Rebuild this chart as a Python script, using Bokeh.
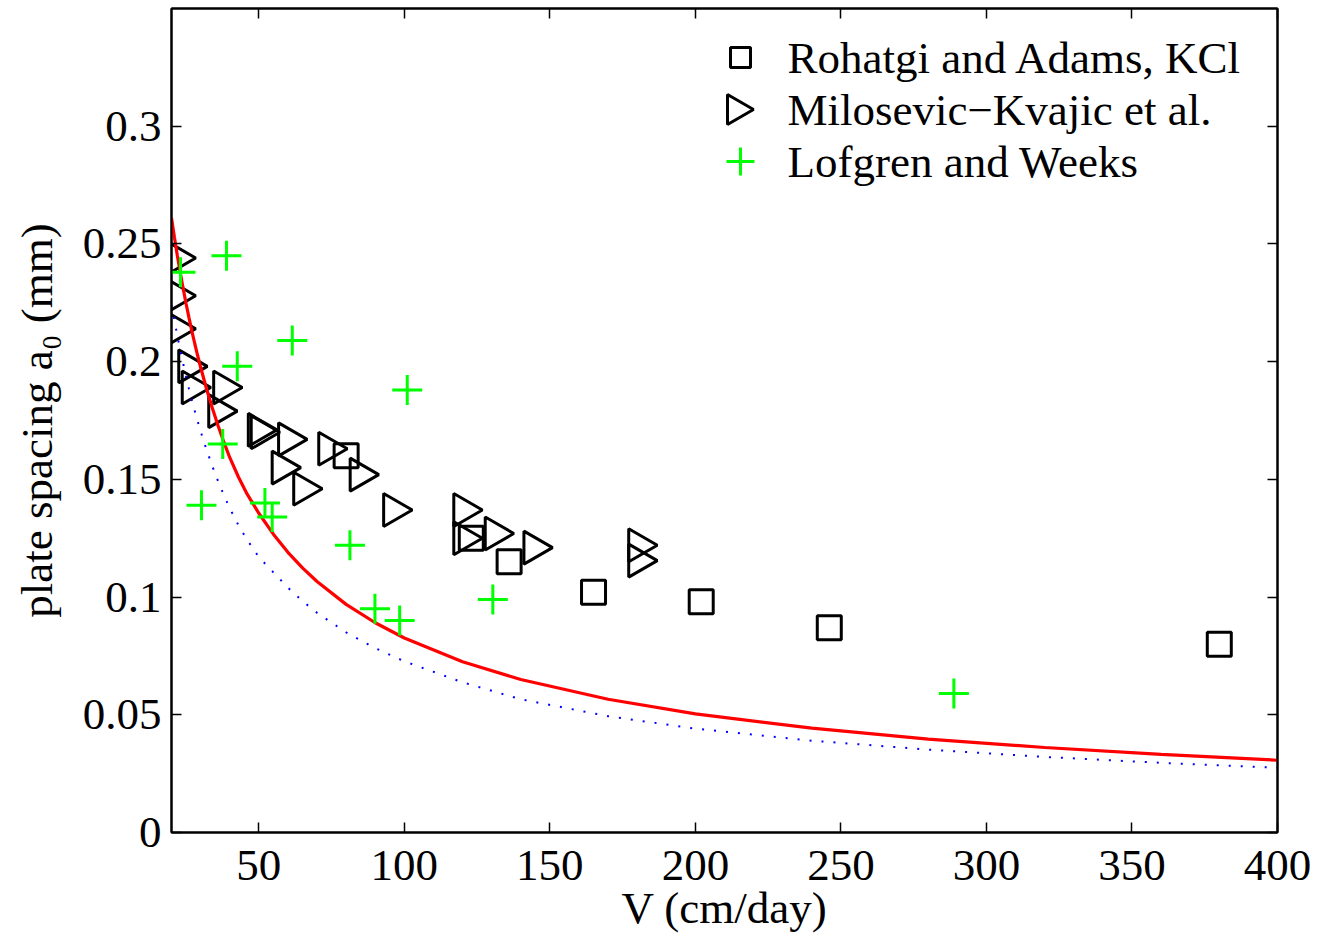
import math

from bokeh.embed import file_html
from bokeh.models import (ColumnDataSource, FixedTicker, Label, LinearAxis,
                          NumeralTickFormatter)
from bokeh.plotting import figure
from bokeh.resources import INLINE
from bokeh.transform import dodge

# ---- measurements: plate spacing a0 (mm) vs growth velocity V (cm/day) ----
rohatgi_v = [80, 123, 136, 165, 202, 246, 380]
rohatgi_a = [0.160, 0.125, 0.115, 0.102, 0.098, 0.087, 0.080]

milosevic_v = [23.4, 23.4, 23.4, 27.4, 28.6, 39.4, 37.7, 51.3, 52.3, 61.7, 75.5,
               59.5, 66.9, 86.3, 97.8, 121.9, 121.9, 132.7, 146, 182, 182]
milosevic_a = [0.244, 0.228, 0.214, 0.198, 0.189, 0.189, 0.179, 0.171, 0.170,
               0.167, 0.163, 0.155, 0.146, 0.152, 0.137, 0.137, 0.125, 0.127,
               0.121, 0.122, 0.1155]

lofgren_v = [38.9, 23.1, 61.5, 42.6, 101, 37.6, 30.3, 52.1, 54.6, 81.3, 89.9,
             98.4, 130.4, 288.8]
lofgren_a = [0.245, 0.238, 0.209, 0.198, 0.188, 0.165, 0.139, 0.140, 0.134,
             0.122, 0.095, 0.090, 0.099, 0.059]

# ---- model curves (red: full model, blue dotted: approximation) ----
curve_v = [20, 21, 22, 23, 24, 25, 26, 27, 28, 29, 30, 32, 34, 36, 38, 40, 43,
           46, 50, 55, 60, 65, 70, 80, 90, 100, 120, 140, 170, 200, 240, 280,
           320, 360, 400]
model_a = [0.2610, 0.2528, 0.2451, 0.2379, 0.2311, 0.2247, 0.2187, 0.2130,
           0.2076, 0.2025, 0.1976, 0.1886, 0.1804, 0.1728, 0.1658, 0.1593,
           0.1510, 0.1437, 0.1356, 0.1267, 0.1190, 0.1124, 0.1066, 0.0969,
           0.0891, 0.0826, 0.0725, 0.0650, 0.0566, 0.0504, 0.0443, 0.0397,
           0.0361, 0.0332, 0.0307]
approx_a = [0.2240, 0.2175, 0.2110, 0.2050, 0.1993, 0.1937, 0.1885, 0.1836,
            0.1790, 0.1746, 0.1704, 0.1627, 0.1557, 0.1492, 0.1433, 0.1378,
            0.1305, 0.1243, 0.1170, 0.1105, 0.1040, 0.0983, 0.0933, 0.0850,
            0.0783, 0.0727, 0.0638, 0.0566, 0.0494, 0.0441, 0.0390, 0.0352,
            0.0321, 0.0296, 0.0275]

x_ticks = [50, 100, 150, 200, 250, 300, 350, 400]
y_ticks = [0, 0.05, 0.1, 0.15, 0.2, 0.25, 0.3]

legend_labels = ["Rohatgi and Adams, KCl", "Milosevic\u2212Kvajic et al.",
                 "Lofgren and Weeks"]

# ---- layout ----
W, H = 1329, 935
BL, BR, BT, BB = 171, 52, 8, 103
X0, X1 = 20, 400
Y0, Y1 = 0, 0.35
FONT = "Liberation Serif"
FS = "45px"

px_x = (W - BL - BR) / (X1 - X0)      # pixels per cm/day
px_y = (H - BT - BB) / (Y1 - Y0)      # pixels per mm

p = figure(width=W, height=H, x_range=(X0, X1), y_range=(Y0, Y1),
           output_backend="svg", toolbar_location=None,
           min_border_left=BL, min_border_right=BR,
           min_border_top=BT, min_border_bottom=BB)
p.background_fill_color = "white"
p.border_fill_color = "white"
p.outline_line_color = "black"
p.outline_line_width = 2
p.xgrid.visible = False
p.ygrid.visible = False

x_bottom = p.below[0]
y_left = p.left[0]
x_top = LinearAxis()
y_right = LinearAxis()
p.add_layout(x_top, "above")
p.add_layout(y_right, "right")

x_bottom.axis_label = "V (cm/day)"
y_left.axis_label = "plate spacing a\u2080 (mm)"

for ax in (x_bottom, x_top):
    ax.ticker = FixedTicker(ticks=x_ticks)
for ax in (y_left, y_right):
    ax.ticker = FixedTicker(ticks=y_ticks)
    ax.formatter = NumeralTickFormatter(format="0.[00]")

for ax in (x_bottom, x_top, y_left, y_right):
    ax.axis_line_width = 2
    ax.axis_line_color = "black"
    ax.major_tick_in = 10
    ax.major_tick_out = 0
    ax.major_tick_line_width = 1.5
    ax.major_tick_line_color = "black"
    ax.minor_tick_line_color = None
    ax.major_label_text_font = FONT
    ax.major_label_text_font_size = FS
    ax.major_label_text_color = "black"
    ax.axis_label_text_font = FONT
    ax.axis_label_text_font_size = FS
    ax.axis_label_text_font_style = "normal"
    ax.axis_label_text_color = "black"

x_bottom.major_label_standoff = 18
x_bottom.axis_label_standoff = 0
y_left.major_label_standoff = 10
y_left.axis_label_standoff = 18
# mirrored axes on top and right: tick marks only
for ax in (x_top, y_right):
    ax.major_label_text_color = None
    ax.major_label_text_font_size = "1px"
    ax.major_label_standoff = 0

# ---- data marks ----
SQ_SIZE, TRI_SIZE, PLUS_SIZE = 24, 33, 30


def tri_shift(size):
    # centre the right-pointing triangle's bounding box on its value
    return -(size * math.sqrt(3) / 2 / 6) / px_x


src_r = ColumnDataSource(dict(v=rohatgi_v, a=rohatgi_a))
src_m = ColumnDataSource(dict(v=milosevic_v, a=milosevic_a))
src_l = ColumnDataSource(dict(v=lofgren_v, a=lofgren_a))

p.scatter("v", "a", source=src_r, marker="square", size=SQ_SIZE,
          fill_color=None, line_color="black", line_width=3)
p.scatter(dodge("v", tri_shift(TRI_SIZE)), "a", source=src_m, marker="triangle",
          angle=-math.pi / 2, size=TRI_SIZE, fill_color=None,
          line_color="black", line_width=3)

p.line(curve_v, approx_a, line_color="#0000ff", line_width=2, line_dash="2 10")
p.line(curve_v, model_a, line_color="#ff0000", line_width=3.2)

p.scatter("v", "a", source=src_l, marker="cross", size=PLUS_SIZE,
          line_color="#00ff00", line_width=3)

# ---- legend (drawn by hand so the key triangle points right) ----
KEY_PX, TEXT_PX = 740, 787
ROW_PX = [57, 109, 161]
key_x = X0 + (KEY_PX - BL) / px_x
text_x = X0 + (TEXT_PX - BL) / px_x
row_y = [Y1 - (r - BT) / px_y for r in ROW_PX]

p.scatter([key_x], [row_y[0]], marker="square", size=20, fill_color=None,
          line_color="black", line_width=3)
p.scatter([key_x + tri_shift(30)], [row_y[1]], marker="triangle",
          angle=-math.pi / 2, size=30, fill_color=None, line_color="black",
          line_width=3)
p.scatter([key_x], [row_y[2]], marker="cross", size=28, line_color="#00ff00",
          line_width=3)
for text, y in zip(legend_labels, row_y):
    p.add_layout(Label(x=text_x, y=y, text=text, text_font=FONT,
                       text_font_size=FS, text_color="black",
                       text_baseline="middle", text_align="left"))

open("out.html", "w").write(file_html(p, INLINE))
